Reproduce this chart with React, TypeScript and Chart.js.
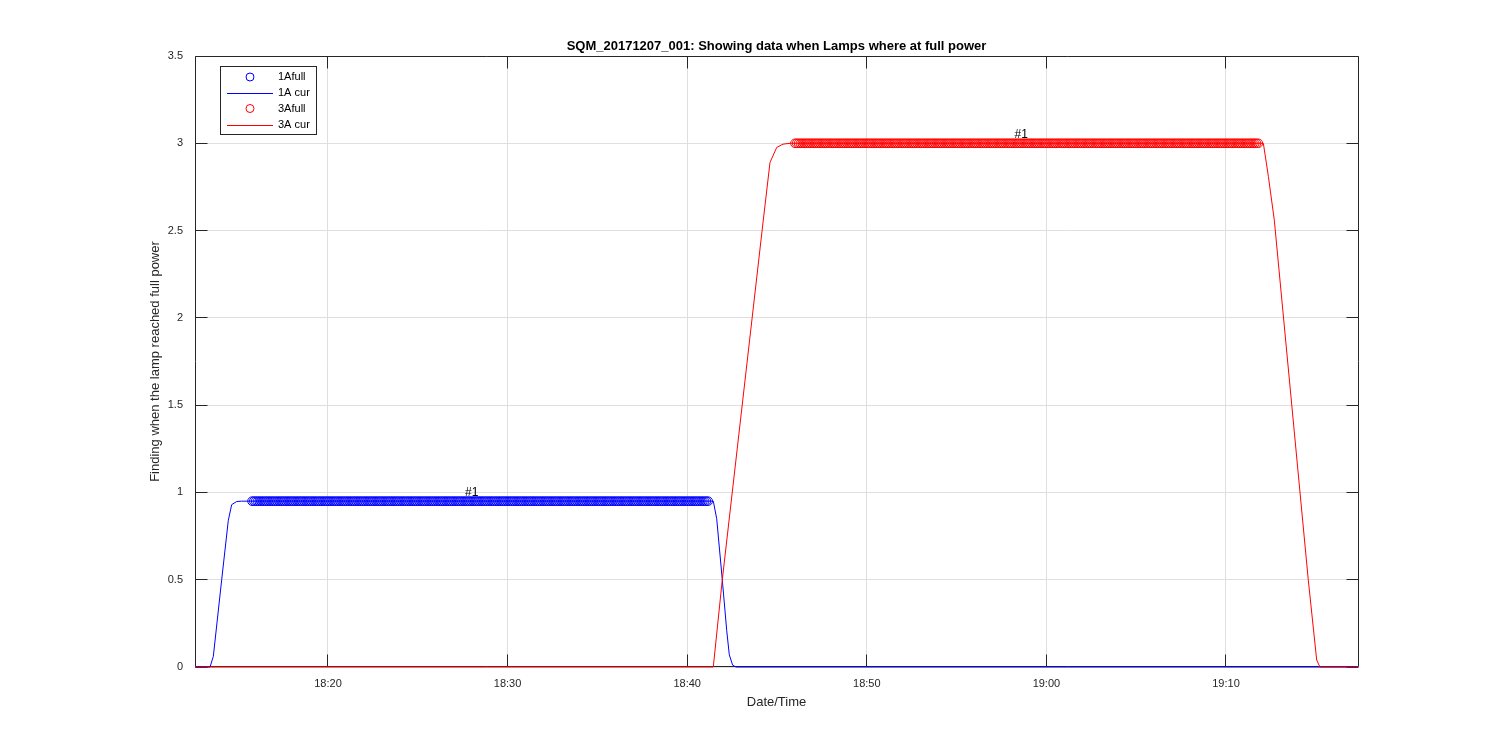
import React, { useEffect, useRef } from "react";
import { Chart, registerables } from "chart.js";

Chart.register(...registerables);

// Time axis: minutes after 18:00
const X_MIN = 12.595;
const X_MAX = 77.35;
const X_TICKS = [20, 30, 40, 50, 60, 70];
const Y_MIN = 0;
const Y_MAX = 3.5;
const Y_TICKS = [0, 0.5, 1, 1.5, 2, 2.5, 3, 3.5];

const TITLE = "SQM_20171207_001: Showing data when Lamps where at full power";
const X_LABEL = "Date/Time";
const Y_LABEL = "Finding when the lamp reached full power";

// 1A current trace
const CUR1A_T = [12.595, 13.43, 13.614, 14.081, 14.449, 14.638, 14.917, 15.195, 41.453, 41.643, 41.954, 42.199, 42.344, 42.533, 42.72, 77.35];
const CUR1A_V = [0, 0, 0.06, 0.5, 0.84, 0.93, 0.948, 0.95, 0.95, 0.85, 0.5, 0.21, 0.07, 0.01, 0, 0];

// 3A current trace
const CUR3A_T = [12.595, 41.453, 41.954, 44.237, 44.61, 44.983, 45.334, 45.724, 72.08, 72.36, 72.69, 74.58, 75.05, 75.23, 77.35];
const CUR3A_V = [0, 0, 0.5, 2.56, 2.89, 2.976, 2.995, 3.0, 3.0, 2.81, 2.56, 0.5, 0.04, 0, 0];

// Full-power windows (logger samples every 6 s)
const SAMPLE_MIN = 0.1;
const FULL1A_START = 15.77;
const FULL1A_END = 41.23;
const FULL1A_LEVEL = 0.95;
const FULL3A_START = 46.0;
const FULL3A_END = 71.86;
const FULL3A_LEVEL = 3.0;

const LEGEND_LABELS = ["1Afull", "1A cur", "3Afull", "3A cur"];
const ANNOT_TEXT = ["#1", "#1"];
const ANNOT_T = [28.0, 58.6];
const ANNOT_V = [1.0, 3.05];

const BLUE = "#0000ff";
const RED = "#ff0000";
const AXIS = "#262626";
const GRID = "#dfdfdf";
const FONT = "'Liberation Sans', Arial, Helvetica, sans-serif";

function sampleTimes(start: number, end: number, step: number): number[] {
  const out: number[] = [];
  for (let t = start; t <= end + 1e-9; t += step) out.push(t);
  return out;
}

function fmtTime(m: number): string {
  const total = Math.round(m);
  const h = 18 + Math.floor(total / 60);
  const mm = total % 60;
  return `${h}:${mm < 10 ? "0" + mm : mm}`;
}

const pts = (t: number[], v: number[]) => t.map((x, i) => ({ x, y: v[i] }));
const align = (p: number) => Math.round(p - 0.5) + 0.5;

const framePlugin = {
  id: "frame",
  beforeDatasetsDraw(chart: any) {
    const { ctx, chartArea: a, scales } = chart;
    ctx.save();
    ctx.strokeStyle = AXIS;
    ctx.lineWidth = 1;
    const L = Math.round(a.left) + 0.5;
    const R = Math.round(a.right) + 0.5;
    const T = Math.round(a.top) + 0.5;
    const B = Math.round(a.bottom) - 0.5;
    ctx.beginPath();
    ctx.moveTo(L, T);
    ctx.lineTo(R, T);
    ctx.lineTo(R, B);
    ctx.lineTo(L, B);
    ctx.closePath();
    ctx.stroke();
    const tl = 12;
    ctx.beginPath();
    X_TICKS.forEach((v) => {
      const x = align(scales.x.getPixelForValue(v));
      ctx.moveTo(x, B);
      ctx.lineTo(x, B - tl);
      ctx.moveTo(x, T);
      ctx.lineTo(x, T + tl);
    });
    Y_TICKS.forEach((v) => {
      const y = align(scales.y.getPixelForValue(v));
      ctx.moveTo(L, y);
      ctx.lineTo(L + tl, y);
      ctx.moveTo(R, y);
      ctx.lineTo(R - tl, y);
    });
    ctx.stroke();
    ctx.restore();
  },
  afterDraw(chart: any) {
    const { ctx, chartArea: a, scales } = chart;
    ctx.save();
    // Title
    ctx.fillStyle = "#000";
    ctx.font = `bold 13px ${FONT}`;
    ctx.textAlign = "center";
    ctx.textBaseline = "middle";
    ctx.fillText(TITLE, (a.left + a.right) / 2, 46);
    // Axis labels
    ctx.fillStyle = AXIS;
    ctx.font = `13px ${FONT}`;
    ctx.fillText(X_LABEL, (a.left + a.right) / 2, 702);
    ctx.save();
    ctx.translate(155.5, (a.top + a.bottom) / 2);
    ctx.rotate(-Math.PI / 2);
    ctx.fillText(Y_LABEL, 0, 0);
    ctx.restore();
    // Annotations
    ctx.fillStyle = "#000";
    ctx.font = `12px ${FONT}`;
    ANNOT_TEXT.forEach((s, i) => {
      ctx.fillText(s, scales.x.getPixelForValue(ANNOT_T[i]), scales.y.getPixelForValue(ANNOT_V[i]));
    });
    // Legend
    const bx = 220.5, by = 66.5, bw = 96, bh = 68;
    ctx.fillStyle = "#fff";
    ctx.fillRect(bx, by, bw, bh);
    ctx.strokeStyle = AXIS;
    ctx.lineWidth = 1;
    ctx.strokeRect(bx, by, bw, bh);
    const rows = [77, 93, 108.5, 124.5];
    const colors = [BLUE, BLUE, RED, RED];
    ctx.font = `11px ${FONT}`;
    ctx.textAlign = "left";
    ctx.textBaseline = "middle";
    LEGEND_LABELS.forEach((lab, i) => {
      const y = rows[i];
      ctx.strokeStyle = colors[i];
      ctx.lineWidth = 1;
      if (i % 2 === 0) {
        ctx.beginPath();
        ctx.arc(250, y, 4, 0, Math.PI * 2);
        ctx.stroke();
      } else {
        ctx.beginPath();
        ctx.moveTo(227, Math.round(y) + 0.5);
        ctx.lineTo(273, Math.round(y) + 0.5);
        ctx.stroke();
      }
      ctx.fillStyle = "#000";
      ctx.fillText(lab, 278, y);
    });
    ctx.restore();
  },
};

export default function App() {
  const ref = useRef<HTMLCanvasElement>(null);
  useEffect(() => {
    document.body.style.margin = "0";
    const full1A = sampleTimes(FULL1A_START, FULL1A_END, SAMPLE_MIN).map((x) => ({ x, y: FULL1A_LEVEL }));
    const full3A = sampleTimes(FULL3A_START, FULL3A_END, SAMPLE_MIN).map((x) => ({ x, y: FULL3A_LEVEL }));
    const markerStyle = (c: string) => ({
      showLine: false,
      pointRadius: 4.3,
      pointStyle: "circle",
      pointBorderColor: c,
      pointBackgroundColor: "rgba(0,0,0,0)",
      pointBorderWidth: 1,
      borderColor: c,
      backgroundColor: "rgba(0,0,0,0)",
      clip: false,
    });
    const lineStyle = (c: string) => ({
      showLine: true,
      borderColor: c,
      borderWidth: 1,
      pointRadius: 0,
      tension: 0,
      fill: false,
      clip: false,
    });
    const chart = new Chart(ref.current as HTMLCanvasElement, {
      type: "scatter",
      data: {
        datasets: [
          { label: LEGEND_LABELS[0], data: full1A, order: 4, ...markerStyle(BLUE) } as any,
          { label: LEGEND_LABELS[1], data: pts(CUR1A_T, CUR1A_V), order: 3, ...lineStyle(BLUE) } as any,
          { label: LEGEND_LABELS[2], data: full3A, order: 2, ...markerStyle(RED) } as any,
          { label: LEGEND_LABELS[3], data: pts(CUR3A_T, CUR3A_V), order: 1, ...lineStyle(RED) } as any,
        ],
      },
      options: {
        responsive: false,
        animation: false,
        events: [],
        layout: { padding: { top: 56, right: 142, bottom: 0, left: 0 } },
        plugins: {
          legend: { display: false },
          title: { display: false },
          tooltip: { enabled: false },
        },
        scales: {
          x: {
            type: "linear",
            min: X_MIN,
            max: X_MAX,
            afterBuildTicks: (s: any) => {
              s.ticks = X_TICKS.map((value) => ({ value }));
            },
            afterFit: (s: any) => {
              s.height = 83;
            },
            grid: { color: GRID, drawTicks: false, lineWidth: 1 },
            border: { display: false },
            ticks: {
              padding: 10,
              color: AXIS,
              font: { family: FONT, size: 11 },
              maxRotation: 0,
              autoSkip: false,
              callback: (v: any) => fmtTime(Number(v)),
            },
          },
          y: {
            type: "linear",
            min: Y_MIN,
            max: Y_MAX,
            afterBuildTicks: (s: any) => {
              s.ticks = Y_TICKS.map((value) => ({ value }));
            },
            afterFit: (s: any) => {
              s.width = 195;
            },
            grid: { color: GRID, drawTicks: false, lineWidth: 1 },
            border: { display: false },
            ticks: {
              padding: 12,
              color: AXIS,
              font: { family: FONT, size: 11 },
              autoSkip: false,
              callback: (v: any) => String(v),
            },
          },
        },
      },
      plugins: [framePlugin],
    });
    return () => chart.destroy();
  }, []);
  return (
    <div style={{ width: 1500, height: 750, background: "#fff" }}>
      <canvas ref={ref} width={1500} height={750} style={{ display: "block" }} />
    </div>
  );
}
